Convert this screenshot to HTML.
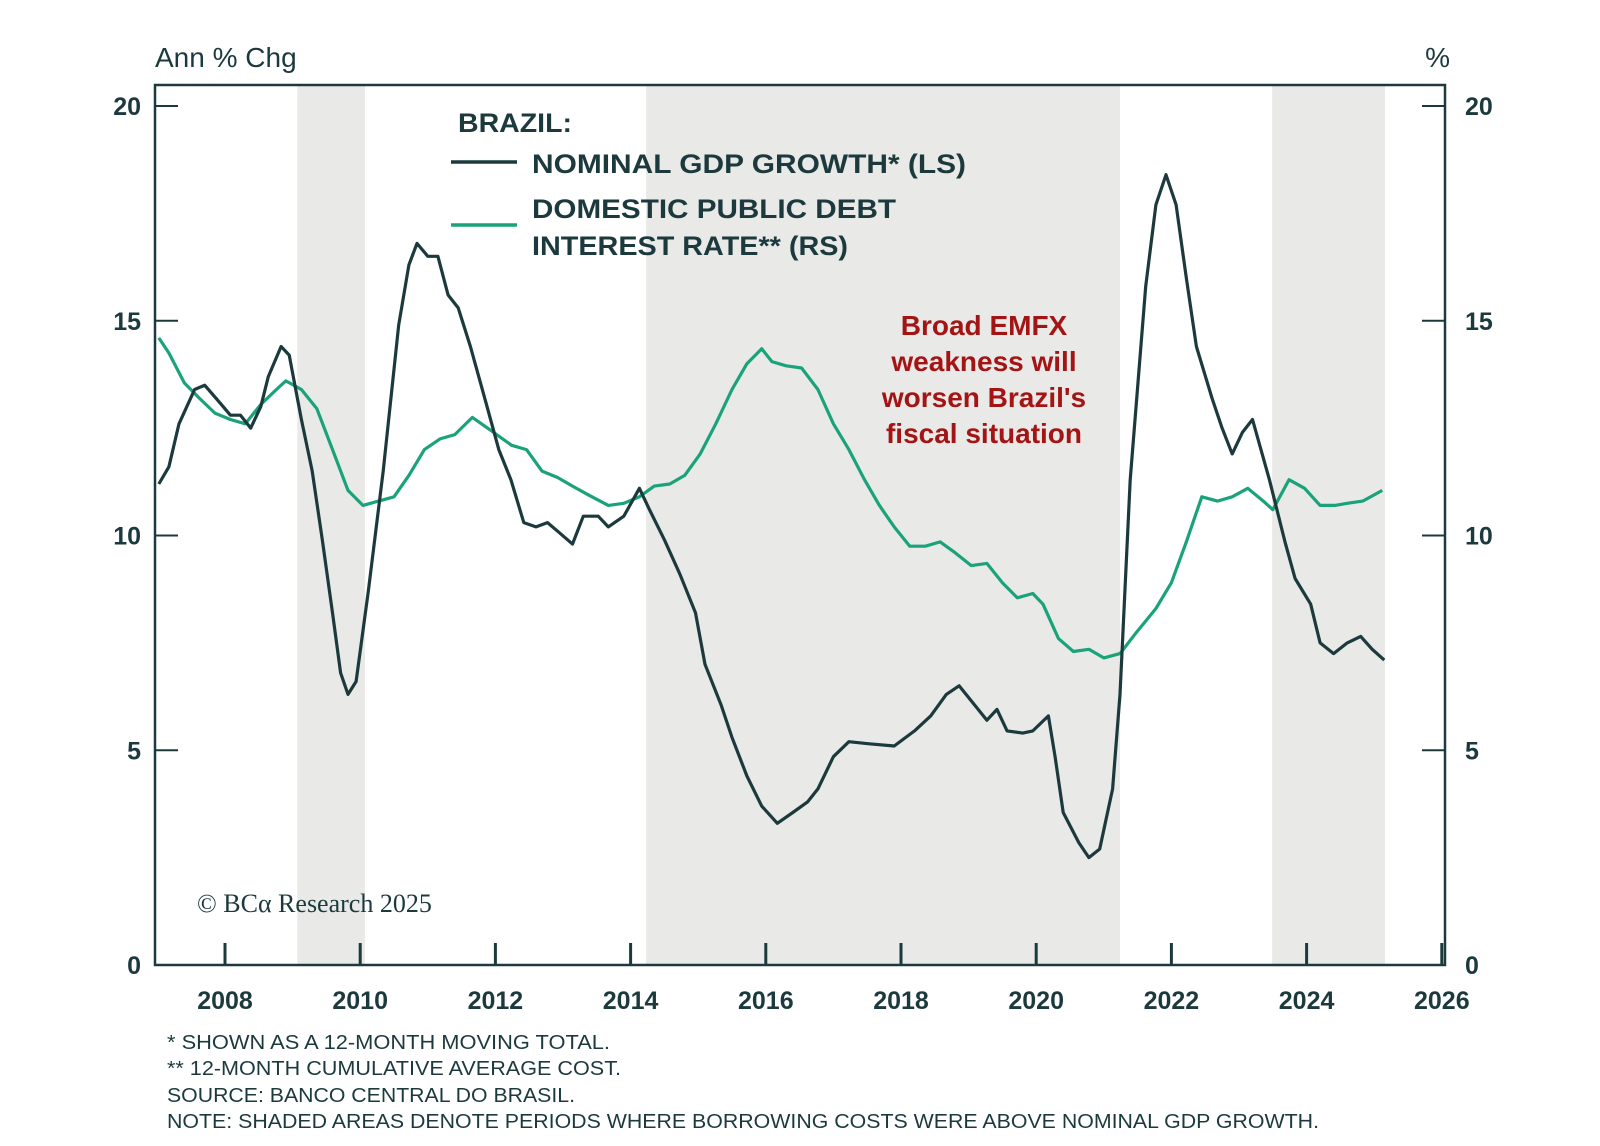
<!DOCTYPE html>
<html><head><meta charset="utf-8"><style>
html,body{margin:0;padding:0;background:#fff}
svg{display:block}
text{font-family:"Liberation Sans",sans-serif;fill:#1c3a3d}
</style></head><body>
<svg id="chart" width="1600" height="1146" viewBox="0 0 1600 1146" xmlns="http://www.w3.org/2000/svg">
<g id="shades"></g>
<g id="ticks"></g>
<g id="lines"></g>
<rect x="155" y="85" width="1290" height="880" fill="none" stroke="#1c3a3d" stroke-width="2.5"/>
<text x="155" y="67" font-size="28">Ann % Chg</text>
<text x="1450" y="67" font-size="28" text-anchor="end">%</text>
<g id="labels" font-size="25" font-weight="bold"></g>
<g font-size="27" font-weight="bold">
<text x="458" y="132" textLength="114" lengthAdjust="spacingAndGlyphs">BRAZIL:</text>
<line x1="451" y1="162" x2="517" y2="162" stroke="#1c3a3d" stroke-width="3.5"/>
<text x="532" y="173" textLength="434" lengthAdjust="spacingAndGlyphs">NOMINAL GDP GROWTH* (LS)</text>
<line x1="451" y1="225" x2="517" y2="225" stroke="#1aa37a" stroke-width="3.5"/>
<text x="532" y="218" textLength="364" lengthAdjust="spacingAndGlyphs">DOMESTIC PUBLIC DEBT</text>
<text x="532" y="255" textLength="316" lengthAdjust="spacingAndGlyphs">INTEREST RATE** (RS)</text>
</g>
<g font-size="28" font-weight="bold" text-anchor="middle">
<text x="984" y="335" style="fill:#a31515">Broad EMFX</text>
<text x="984" y="371" style="fill:#a31515">weakness will</text>
<text x="984" y="407" style="fill:#a31515">worsen Brazil's</text>
<text x="984" y="443" style="fill:#a31515">fiscal situation</text>
</g>
<text x="197" y="912" font-size="26" style="font-family:'Liberation Serif',serif;fill:#1c3a3d">© BCα Research 2025</text>
<g font-size="20">
<text x="167" y="1049" textLength="443" lengthAdjust="spacingAndGlyphs">* SHOWN AS A 12-MONTH MOVING TOTAL.</text>
<text x="167" y="1075" textLength="454" lengthAdjust="spacingAndGlyphs">** 12-MONTH CUMULATIVE AVERAGE COST.</text>
<text x="167" y="1102" textLength="408" lengthAdjust="spacingAndGlyphs">SOURCE: BANCO CENTRAL DO BRASIL.</text>
<text x="167" y="1128" textLength="1152" lengthAdjust="spacingAndGlyphs">NOTE: SHADED AREAS DENOTE PERIODS WHERE BORROWING COSTS WERE ABOVE NOMINAL GDP GROWTH.</text>
</g>
</svg>
<script>
const yTicks=[0,5,10,15,20];
const xTicks=[2008,2010,2012,2014,2016,2018,2020,2022,2024,2026];
const shadeStarts=[2009.07,2014.23,2023.49];
const shadeEnds=[2010.07,2021.24,2025.16];
const gdpYears=[2007.02,2007.17,2007.32,2007.55,2007.7,2007.92,2008.08,2008.23,2008.38,2008.53,2008.64,2008.83,2008.95,2009.13,2009.29,2009.44,2009.59,2009.71,2009.82,2009.94,2010.12,2010.34,2010.57,2010.72,2010.84,2011.0,2011.15,2011.3,2011.45,2011.63,2011.86,2012.05,2012.23,2012.42,2012.6,2012.77,2012.92,2013.14,2013.3,2013.52,2013.67,2013.9,2014.13,2014.28,2014.5,2014.73,2014.96,2015.1,2015.34,2015.5,2015.72,2015.94,2016.17,2016.4,2016.62,2016.77,2017.0,2017.23,2017.53,2017.9,2018.2,2018.44,2018.67,2018.86,2019.04,2019.27,2019.42,2019.57,2019.8,2019.95,2020.18,2020.28,2020.4,2020.63,2020.78,2020.94,2021.13,2021.24,2021.39,2021.62,2021.77,2021.92,2022.07,2022.22,2022.37,2022.6,2022.75,2022.9,2023.05,2023.2,2023.45,2023.68,2023.83,2024.06,2024.2,2024.4,2024.6,2024.8,2024.97,2025.15];
const gdpValues=[11.2,11.6,12.6,13.4,13.5,13.1,12.8,12.8,12.5,13.0,13.7,14.4,14.2,12.7,11.5,9.9,8.2,6.8,6.3,6.6,8.7,11.5,14.9,16.3,16.8,16.5,16.5,15.6,15.3,14.4,13.1,12.0,11.3,10.3,10.2,10.3,10.1,9.8,10.45,10.45,10.2,10.45,11.1,10.6,9.9,9.1,8.2,7.0,6.05,5.3,4.4,3.7,3.3,3.55,3.8,4.1,4.85,5.2,5.15,5.1,5.45,5.8,6.3,6.5,6.15,5.7,5.95,5.45,5.4,5.45,5.8,4.85,3.55,2.85,2.5,2.7,4.1,6.3,11.3,15.8,17.7,18.4,17.7,16.0,14.4,13.2,12.5,11.9,12.4,12.7,11.3,9.85,9.0,8.4,7.5,7.25,7.5,7.65,7.35,7.1];
const rateYears=[2007.02,2007.17,2007.4,2007.62,2007.85,2008.08,2008.3,2008.53,2008.76,2008.9,2009.13,2009.36,2009.59,2009.82,2010.04,2010.27,2010.5,2010.72,2010.95,2011.18,2011.4,2011.66,2011.93,2012.24,2012.46,2012.69,2012.92,2013.14,2013.37,2013.67,2013.9,2014.13,2014.35,2014.58,2014.8,2015.03,2015.26,2015.5,2015.72,2015.94,2016.09,2016.3,2016.53,2016.77,2017.0,2017.23,2017.46,2017.68,2017.9,2018.13,2018.36,2018.58,2018.8,2019.04,2019.27,2019.5,2019.72,2019.95,2020.1,2020.33,2020.55,2020.78,2021.0,2021.24,2021.46,2021.77,2022.0,2022.22,2022.45,2022.68,2022.9,2023.13,2023.36,2023.5,2023.74,2023.97,2024.2,2024.42,2024.6,2024.83,2025.12];
const rateValues=[14.6,14.25,13.55,13.2,12.85,12.7,12.6,13.05,13.4,13.6,13.4,12.95,12.0,11.05,10.7,10.8,10.9,11.4,12.0,12.25,12.35,12.75,12.45,12.1,12.0,11.5,11.35,11.15,10.95,10.7,10.75,10.9,11.15,11.2,11.4,11.9,12.6,13.4,14.0,14.35,14.05,13.95,13.9,13.4,12.6,12.0,11.3,10.7,10.2,9.75,9.75,9.85,9.6,9.3,9.35,8.9,8.55,8.65,8.4,7.6,7.3,7.35,7.15,7.25,7.7,8.3,8.9,9.85,10.9,10.8,10.9,11.1,10.8,10.6,11.3,11.1,10.7,10.7,10.75,10.8,11.05];

const NS='http://www.w3.org/2000/svg';
const X=y=>225+(y-2008)*67.6;
const Y=v=>965-v*42.95;
function mk(tag,attrs,parent){const e=document.createElementNS(NS,tag);for(const k in attrs)e.setAttribute(k,attrs[k]);document.getElementById(parent).appendChild(e);return e;}
shadeStarts.forEach((s,i)=>{
  const r=mk('rect',{x:X(s),y:86,width:X(shadeEnds[i])-X(s),height:878,fill:'#e9e9e7'},'shades');
  
  
});
yTicks.forEach(v=>{
  const a=mk('line',{x1:155,x2:178,y1:Y(v),y2:Y(v),stroke:'#1c3a3d','stroke-width':2},'ticks');
  
  
  const b=mk('line',{x1:1422,x2:1445,y1:Y(v),y2:Y(v),stroke:'#1c3a3d','stroke-width':2},'ticks');
  
  
  const t=mk('text',{x:141,y:Y(v)+9,'text-anchor':'end'},'labels');t.textContent=v;
  
  
  const t2=mk('text',{x:1465,y:Y(v)+9,'text-anchor':'start'},'labels');t2.textContent=v;
  
  
});
xTicks.forEach(y=>{
  const l=mk('line',{x1:X(y),x2:X(y),y1:943,y2:965,stroke:'#1c3a3d','stroke-width':3},'ticks');
  
  
  const t=mk('text',{x:X(y),y:1009,'text-anchor':'middle'},'labels');t.textContent=y;
  
  
});
function path(xs,vs){return xs.map((x,i)=>(i?'L':'M')+X(x).toFixed(1)+','+Y(vs[i]).toFixed(1)).join(' ');}
const g=mk('path',{d:path(rateYears,rateValues),fill:'none',stroke:'#1aa37a','stroke-width':3.2,'stroke-linejoin':'round'},'lines');


const d=mk('path',{d:path(gdpYears,gdpValues),fill:'none',stroke:'#1c3a3d','stroke-width':3.2,'stroke-linejoin':'round'},'lines');


</script>
</body></html>
